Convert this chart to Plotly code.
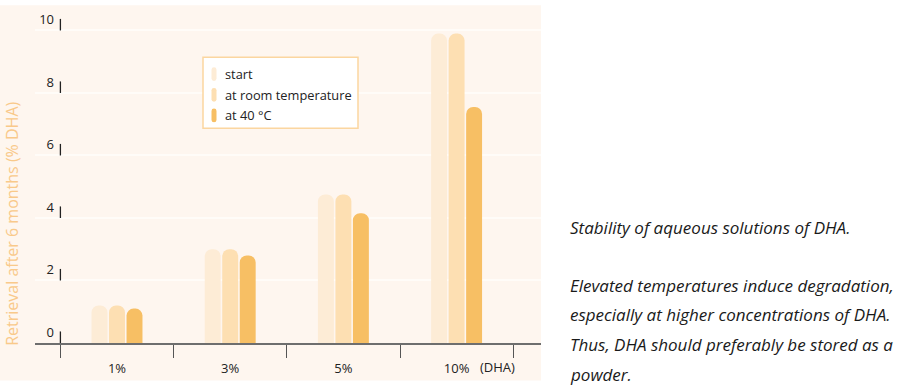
import plotly.graph_objects as go

# ---------------- data ----------------
categories = ["1%", "3%", "5%", "10%"]
series_names = ["start", "at room temperature", "at 40 °C"]
start_vals = [1.2, 3.0, 4.75, 9.9]
room_vals = [1.2, 3.0, 4.75, 9.9]
hot_vals = [1.1, 2.8, 4.15, 7.55]
y_ticks = [0, 2, 4, 6, 8, 10]
y_title = "Retrieval after 6 months (% DHA)"
x_unit_note = "(DHA)"
caption_lines = [
    "Stability of aqueous solutions of DHA.",
    "Elevated temperatures induce degradation,",
    "especially at higher concentrations of DHA.",
    "Thus, DHA should preferably be stored as a",
    "powder.",
]

# ---------------- style ----------------
colors = ["#fdecd6", "#fddfb2", "#f7bf64"]
panel_color = "#fef6ef"
text_color = "#222222"
font_family = "Open Sans"

W, H = 904, 388
PL, PR, PT, PB = 35, 541, 10, 343          # plot area in pixels
PX_PER_Y = 31.73
PX_PER_X = 113.2
X0_PX = 117                                # pixel of first category centre


def px(xp):
    return (xp - PL) / (PR - PL)


def py(yp):
    return (PB - yp) / (PB - PT)


xs = list(range(len(categories)))
all_vals = [start_vals, room_vals, hot_vals]

fig = go.Figure()
for name, vals, col in zip(series_names, all_vals, colors):
    fig.add_trace(go.Bar(
        x=xs, y=vals, name=name, showlegend=False,
        marker=dict(color=col, cornerradius=8, line=dict(width=0)),
        hovertemplate="%{y}<extra>" + name + "</extra>",
    ))

shapes = []
# cream panel
shapes.append(dict(type="rect", xref="paper", yref="paper",
                   x0=px(0), x1=px(541), y0=py(381), y1=py(0),
                   fillcolor=panel_color, line=dict(width=0), layer="below"))
# small vertical tick stubs beside the y labels
for v in y_ticks:
    shapes.append(dict(type="line", xref="x", yref="y",
                       x0=-0.5, x1=-0.5, y0=v, y1=v + 0.37,
                       line=dict(color=text_color, width=1.3)))

# manual legend
shapes.append(dict(type="rect", xref="paper", yref="paper",
                   x0=px(203), x1=px(358), y0=py(125), y1=py(53),
                   fillcolor="white", line=dict(color="#fbd6a0", width=1.5)))
annotations = []
leg_y = [70, 91, 112]
for name, col, cy in zip(series_names, colors, leg_y):
    x0, x1, xc = 211.5, 216.5, 214
    yt, yb, r = cy - 7, cy + 7, 2.5
    path = (f"M{px(x0)},{py(yb - r)} L{px(x0)},{py(yt + r)} "
            f"Q{px(x0)},{py(yt)} {px(xc)},{py(yt)} "
            f"Q{px(x1)},{py(yt)} {px(x1)},{py(yt + r)} "
            f"L{px(x1)},{py(yb - r)} "
            f"Q{px(x1)},{py(yb)} {px(xc)},{py(yb)} "
            f"Q{px(x0)},{py(yb)} {px(x0)},{py(yb - r)} Z")
    shapes.append(dict(type="path", xref="paper", yref="paper", path=path,
                       fillcolor=col, line=dict(width=0)))
    annotations.append(dict(xref="paper", yref="paper", x=px(223), y=py(cy),
                            xanchor="left", yanchor="middle", showarrow=False,
                            text=name, font=dict(size=12.8, color=text_color)))

# y-axis title
annotations.append(dict(xref="paper", yref="paper", x=px(12), y=py(222),
                        xanchor="center", yanchor="middle", showarrow=False,
                        textangle=-90, text=y_title,
                        font=dict(size=16, color="#f9c98a")))
# (DHA) unit note
annotations.append(dict(xref="paper", yref="paper", x=px(497), y=py(367),
                        xanchor="center", yanchor="middle", showarrow=False,
                        text=x_unit_note, font=dict(size=13, color=text_color)))
# caption on the right
cap_y = [226, 285, 314, 345, 375]
for line, cy in zip(caption_lines, cap_y):
    annotations.append(dict(xref="paper", yref="paper", x=px(568), y=py(cy),
                            xanchor="left", yanchor="middle", showarrow=False,
                            text=f"<i>{line}</i>",
                            font=dict(size=17, color="#1a1a1a")))

fig.update_layout(
    width=W, height=H,
    margin=dict(l=PL, r=W - PR, t=PT, b=H - PB, pad=0),
    paper_bgcolor="white", plot_bgcolor="rgba(0,0,0,0)",
    font=dict(family=font_family, color=text_color, size=13),
    barmode="group", bargap=0.536, bargroupgap=0.09,
    shapes=shapes, annotations=annotations,
    showlegend=False,
)
fig.update_xaxes(
    range=[(PL - X0_PX) / PX_PER_X, (PR - X0_PX) / PX_PER_X],
    tickmode="array", tickvals=xs, ticktext=categories,
    ticks="outside", ticklen=13, tickcolor="rgba(0,0,0,0)",
    showline=True, linecolor="#6e6e6e", linewidth=1.5,
    showgrid=False, zeroline=False, fixedrange=True,
    tickfont=dict(size=13, color=text_color),
    minor=dict(tick0=0.5, dtick=1, ticks="outside", ticklen=13,
               tickcolor="#555555", tickwidth=1.3, showgrid=False),
)
fig.update_yaxes(
    range=[0, (PB - PT) / PX_PER_Y],
    tickmode="array", tickvals=y_ticks,
    showgrid=True, gridcolor="#fffcf8", gridwidth=2,
    zeroline=False, showline=False, ticks="",
    ticklabelstandoff=-20, ticklabelshift=-11,
    tickfont=dict(size=13, color=text_color), fixedrange=True,
)

fig.write_html("out.html", config={"displayModeBar": False},
               post_script="document.body.style.margin='0';")
